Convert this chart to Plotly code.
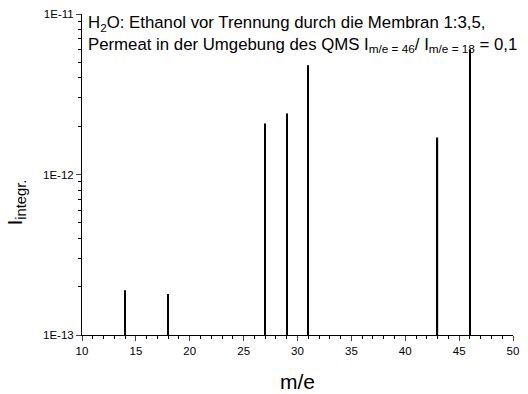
import plotly.graph_objects as go

# peak positions (m/e) and integrated intensities
mass = [14, 18, 27, 29, 31, 43, 46]
intensity = [1.9e-13, 1.8e-13, 2.08e-12, 2.4e-12, 4.8e-12, 1.7e-12, 6.0e-12]

x_ticks = [10, 15, 20, 25, 30, 35, 40, 45, 50]
y_ticks = [1e-13, 1e-12, 1e-11]
y_ticktext = ["1E-13", "1E-12", "1E-11"]
y_minor = [m * 10.0 ** e for e in (-13, -12) for m in range(2, 10)]

title_text = ("H<sub>2</sub>O: Ethanol vor Trennung durch die Membran 1:3,5,<br>"
              "Permeat in der Umgebung des QMS I<sub>m/e = 46</sub>/ I<sub>m/e = 18</sub> = 0,1")

fig = go.Figure()
fig.add_trace(go.Bar(x=mass, y=intensity, width=0.11,
                     marker=dict(color="black", line=dict(width=0))))

fig.update_layout(
    width=528, height=394,
    margin=dict(l=82, r=15, t=14, b=59),
    plot_bgcolor="white", paper_bgcolor="white",
    font=dict(family="Liberation Sans, Arial, sans-serif", color="black"),
    showlegend=False,
)
fig.update_xaxes(range=[10, 50], tickvals=x_ticks, ticks="outside", ticklen=5,
                 tickwidth=1, linecolor="black", linewidth=1, showline=True,
                 showgrid=False, zeroline=False, tickfont=dict(size=11.5), automargin=False,
                 minor=dict(dtick=1, ticks="outside", ticklen=3, tickcolor="black", showgrid=False),
                 title=dict(text="m/e", font=dict(size=21), standoff=18))
fig.update_yaxes(type="log", range=[-13, -11], tickvals=y_ticks, ticktext=y_ticktext,
                 ticks="outside", ticklen=5, tickwidth=1, linecolor="black", linewidth=1,
                 showline=True, showgrid=False, zeroline=False, tickfont=dict(size=11.5), automargin=False,
                 minor=dict(tickvals=y_minor, ticks="outside", ticklen=3, tickcolor="black", showgrid=False))

# y axis title placed by hand (sits a bit below the centre in the original)
fig.add_annotation(x=0, y=0.5, xref="paper", yref="paper", xanchor="right", yanchor="middle",
                   xshift=-52, yshift=-28, textangle=-90, showarrow=False,
                   text="I<sub>integr.</sub>", font=dict(size=21))

fig.add_annotation(x=0.01, y=1.01, xref="paper", yref="paper", xanchor="left", yanchor="top",
                   text=title_text, showarrow=False, align="left", font=dict(size=16.8))

fig.write_html("out.html", config={"displayModeBar": False},
               post_script="document.body.style.margin='0px';")
